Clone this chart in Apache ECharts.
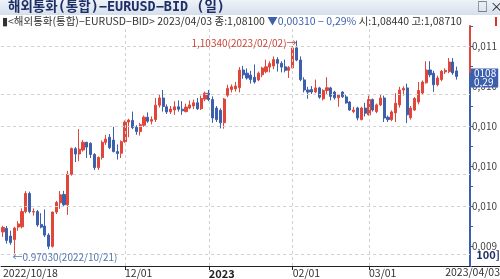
<!DOCTYPE html>
<html><head><meta charset="utf-8">
<script src="https://cdn.jsdelivr.net/npm/echarts@6/dist/echarts.min.js"></script>
<style>html,body{margin:0;padding:0;background:#fff}#c{width:500px;height:279px}</style>
</head><body><div id="c"></div>
<script>
const dates = ['2022/10/18','2022/10/19','2022/10/20','2022/10/21','2022/10/24','2022/10/25','2022/10/26','2022/10/27','2022/10/28','2022/10/31',
'2022/11/01','2022/11/02','2022/11/03','2022/11/04','2022/11/07','2022/11/08','2022/11/09','2022/11/10','2022/11/11','2022/11/14','2022/11/15','2022/11/16','2022/11/17','2022/11/18','2022/11/21','2022/11/22','2022/11/23','2022/11/24','2022/11/25','2022/11/28','2022/11/29','2022/11/30',
'2022/12/01','2022/12/02','2022/12/05','2022/12/06','2022/12/07','2022/12/08','2022/12/09','2022/12/12','2022/12/13','2022/12/14','2022/12/15','2022/12/16','2022/12/19','2022/12/20','2022/12/21','2022/12/22','2022/12/23','2022/12/26','2022/12/27','2022/12/28','2022/12/29','2022/12/30',
'2023/01/02','2023/01/03','2023/01/04','2023/01/05','2023/01/06','2023/01/09','2023/01/10','2023/01/11','2023/01/12','2023/01/13','2023/01/16','2023/01/17','2023/01/18','2023/01/19','2023/01/20','2023/01/23','2023/01/24','2023/01/25','2023/01/26','2023/01/27','2023/01/30','2023/01/31',
'2023/02/01','2023/02/02','2023/02/03','2023/02/06','2023/02/07','2023/02/08','2023/02/09','2023/02/10','2023/02/13','2023/02/14','2023/02/15','2023/02/16','2023/02/17','2023/02/20','2023/02/21','2023/02/22','2023/02/23','2023/02/24','2023/02/27','2023/02/28',
'2023/03/01','2023/03/02','2023/03/03','2023/03/06','2023/03/07','2023/03/08','2023/03/09','2023/03/10','2023/03/13','2023/03/14','2023/03/15','2023/03/16','2023/03/17','2023/03/20','2023/03/21','2023/03/22','2023/03/23','2023/03/24','2023/03/27','2023/03/28','2023/03/29','2023/03/30','2023/03/31',
'2023/04/03'];

const openV = [0.9838,0.9860,0.9812,0.9790,0.9868,0.9870,0.9965,1.0078,0.9962,0.9965,
0.9885,0.9875,0.9818,0.9748,0.9962,1.0020,1.0072,1.0008,1.0198,1.0358,1.0325,1.0350,1.0398,1.0392,1.0322,1.0240,1.0303,1.0398,1.0430,1.0412,1.0340,1.0330,
1.0402,1.0525,1.0535,1.0492,1.0465,1.0505,1.0555,1.0530,1.0540,1.0630,1.0675,1.0620,1.0588,1.0600,1.0620,1.0605,1.0590,1.0612,1.0625,1.0645,1.0608,1.0668,
1.0705,1.0665,1.0612,1.0598,1.0520,1.0692,1.0728,1.0732,1.0740,1.0850,1.0830,1.0818,1.0805,1.0788,1.0820,1.0840,1.0868,1.0875,1.0915,1.0892,1.0870,1.0848,
1.0863,1.0988,1.0912,1.0788,1.0725,1.0728,1.0713,1.0738,1.0670,1.0722,1.0738,1.0712,1.0676,1.0712,1.0682,1.0650,1.0590,1.0613,1.0540,1.0612,
1.0570,1.0665,1.0590,1.0632,1.0675,1.0555,1.0540,1.0582,1.0632,1.0725,1.0738,1.0552,1.0600,1.0650,1.0706,1.0770,1.0850,1.0830,1.0758,1.0790,1.0838,1.0840,1.0900,
1.0844];
const closeV = [0.9866,0.9785,0.9772,0.9862,0.9888,0.9965,1.0078,0.9965,0.9966,0.9882,
0.9868,0.9818,0.9748,0.9962,1.0022,1.0070,1.0008,1.0198,1.0360,1.0325,1.0355,1.0398,1.0368,1.0322,1.0240,1.0303,1.0398,1.0418,1.0365,1.0340,1.0328,1.0402,
1.0525,1.0537,1.0490,1.0465,1.0508,1.0555,1.0530,1.0540,1.0630,1.0675,1.0622,1.0588,1.0606,1.0620,1.0605,1.0595,1.0618,1.0632,1.0645,1.0608,1.0672,1.0705,
1.0665,1.0550,1.0540,1.0520,1.0668,1.0735,1.0745,1.0750,1.0850,1.0820,1.0800,1.0790,1.0775,1.0830,1.0862,1.0870,1.0890,1.0915,1.0892,1.0868,1.0848,1.0865,
1.0988,1.0912,1.0790,1.0725,1.0712,1.0713,1.0738,1.0680,1.0722,1.0739,1.0685,1.0676,1.0694,1.0683,1.0644,1.0600,1.0600,1.0550,1.0612,1.0580,
1.0665,1.0600,1.0632,1.0675,1.0550,1.0540,1.0588,1.0642,1.0725,1.0735,1.0570,1.0612,1.0672,1.0722,1.0775,1.0850,1.0820,1.0758,1.0800,1.0842,1.0848,1.0900,1.0832,
1.0810];
const lowV = [0.9806,0.9765,0.9758,0.9703,0.9845,0.9860,0.9955,0.9955,0.9940,0.9870,
0.9860,0.9806,0.9730,0.9740,0.9950,0.9982,0.9995,0.9944,1.0190,1.0275,1.0280,1.0340,1.0300,1.0300,1.0225,1.0225,1.0290,1.0382,1.0355,1.0335,1.0290,1.0300,
1.0395,1.0430,1.0480,1.0445,1.0440,1.0495,1.0520,1.0510,1.0525,1.0615,1.0590,1.0575,1.0575,1.0570,1.0590,1.0570,1.0585,1.0605,1.0605,1.0600,1.0600,1.0655,
1.0655,1.0520,1.0525,1.0485,1.0483,1.0680,1.0710,1.0715,1.0710,1.0795,1.0790,1.0765,1.0765,1.0780,1.0805,1.0830,1.0835,1.0855,1.0840,1.0835,1.0835,1.0800,
1.0860,1.0905,1.0780,1.0710,1.0670,1.0700,1.0705,1.0670,1.0660,1.0700,1.0660,1.0665,1.0620,1.0675,1.0640,1.0595,1.0580,1.0535,1.0535,1.0560,
1.0565,1.0590,1.0580,1.0625,1.0525,1.0525,1.0530,1.0525,1.0615,1.0690,1.0518,1.0540,1.0595,1.0635,1.0700,1.0765,1.0805,1.0713,1.0748,1.0780,1.0825,1.0830,1.0820,
1.0790];
const highV = [0.9876,0.9875,0.9846,0.9870,0.9905,0.9985,1.0093,1.0090,0.9985,0.9975,
0.9955,0.9978,0.9830,0.9965,1.0032,1.0094,1.0095,1.0220,1.0365,1.0368,1.0481,1.0412,1.0402,1.0398,1.0330,1.0310,1.0410,1.0445,1.0450,1.0495,1.0385,1.0410,
1.0535,1.0545,1.0590,1.0505,1.0520,1.0565,1.0585,1.0560,1.0675,1.0695,1.0725,1.0635,1.0625,1.0655,1.0660,1.0655,1.0640,1.0660,1.0665,1.0675,1.0690,1.0715,
1.0725,1.0685,1.0625,1.0610,1.0675,1.0758,1.0760,1.0775,1.0868,1.0875,1.0860,1.0845,1.0885,1.0840,1.0870,1.0915,1.0905,1.0935,1.0930,1.0905,1.0915,1.0875,
1.1000,1.1034,1.0935,1.0805,1.0745,1.0750,1.0790,1.0745,1.0730,1.0805,1.0745,1.0720,1.0700,1.0718,1.0695,1.0655,1.0620,1.0620,1.0620,1.0645,
1.0690,1.0672,1.0640,1.0695,1.0690,1.0565,1.0598,1.0705,1.0745,1.0748,1.0765,1.0625,1.0680,1.0775,1.0785,1.0905,1.0905,1.0845,1.0815,1.0850,1.0860,1.0925,1.0925,
1.0871];

const yTickValues = [1.100, 1.075, 1.050, 1.025, 1.000, 0.975];
const yTickLabels = ['0,011', '0,010', '0,010', '0,010', '0,010', '0,009'];
const xTickLabels = {'2022/10/18':'2022/10/18','2022/12/01':'12/01','2023/01/02':'{b|2023}','2023/02/01':'02/01','2023/03/01':'03/01'};
const xGridDates = ['2022/12/01','2023/01/02','2023/02/01','2023/03/01'];
const padCats = [' ', '  ', '   '];

const RED = '#e0463a', BLUE = '#3c5fae';
const chart = echarts.init(document.getElementById('c'), null, {renderer:'canvas'});
const candles = dates.map((d, i) => [openV[i], closeV[i], lowV[i], highV[i]]);
const last = dates.length - 1;
const axisTop = 26, axisBottom = 266;
const redFrac = (73 - axisTop) / (axisBottom - axisTop);
const KR = '"Noto Sans CJK KR", "Noto Sans", sans-serif';
const MONO = '"DejaVu Sans Mono", "Noto Sans CJK KR", monospace';

const gridLines = yTickValues.map(v => ({yAxis: v}))
  .concat(xGridDates.map(d => ({xAxis: d})));

chart.setOption({
  animation: false,
  grid: {left: -3.1, right: 28.1, top: axisTop, bottom: 279 - axisBottom, containLabel: false},
  xAxis: {
    type: 'category', data: dates.concat(padCats), boundaryGap: true,
    axisLine: {lineStyle: {color: '#222', width: 1}},
    axisTick: {show: true, alignWithLabel: true, length: 4, lineStyle: {color: '#222'},
      interval: (i, v) => v in xTickLabels && i > 0},
    axisLabel: {interval: (i, v) => v in xTickLabels, formatter: v => xTickLabels[v] || '',
      align: 'left', margin: 2, fontSize: 10.5, color: '#333', fontFamily: KR,
      rich: {b: {fontWeight: 'bold', fontSize: 11, color: '#222', fontFamily: KR}}},
    splitLine: {show: false}
  },
  yAxis: {
    type: 'value', position: 'right', min: 0.9625, max: 1.1125, interval: 0.0125, scale: true,
    axisLine: {show: true, lineStyle: {width: 2, color: {type: 'linear', x: 0, y: axisTop, x2: 0, y2: axisBottom, global: true,
      colorStops: [{offset: 0, color: RED}, {offset: redFrac, color: RED}, {offset: redFrac, color: BLUE}, {offset: 1, color: BLUE}]}}},
    axisTick: {show: true, length: 3, lineStyle: {color: BLUE}},
    axisLabel: {margin: 2, fontSize: 10, color: '#444', fontFamily: KR,
      formatter: v => { const k = yTickValues.findIndex(t => Math.abs(t - v) < 1e-6); return k >= 0 ? yTickLabels[k] : ''; }},
    splitLine: {show: false}
  },
  series: [{
    type: 'candlestick', data: candles, barWidth: 2.6,
    itemStyle: {color: RED, color0: BLUE, borderColor: RED, borderColor0: BLUE, borderWidth: 1},
    markLine: {
      silent: true, symbol: ['none', 'none'], animation: false,
      lineStyle: {type: [3, 3], color: '#d0d0d0', width: 1},
      label: {show: false},
      data: gridLines.concat([{
        yAxis: closeV[last], lineStyle: {color: 'rgba(0,0,0,0)', width: 0},
        label: {show: true, position: 'end', distance: 1, formatter: '0108\n0,29',
          backgroundColor: BLUE, color: '#fff', fontSize: 10, lineHeight: 9, padding: [1, 2, 0, 3], fontFamily: KR}
      }])
    },
    markPoint: {
      symbol: 'circle', symbolSize: 0, animation: false,
      data: [
        {coord: ['2023/02/02', 1.1034], label: {show: true, position: 'left', distance: 0, offset: [0, 2.5],
          formatter: '1,10340(2023/02/02)→', color: '#c8483a', fontSize: 10, fontFamily: KR}},
        {coord: ['2022/10/21', 0.9703], label: {show: true, position: 'right', distance: 0, offset: [-2, 4],
          formatter: '←0.97030(2022/10/21)', color: '#5577b0', fontSize: 10, fontFamily: KR}}
      ]
    }
  }],
  graphic: [
    {type: 'rect', shape: {x: 0, y: 0, width: 500, height: 15}, z: 100,
      style: {fill: {type: 'linear', x: 0, y: 0, x2: 0, y2: 1, colorStops: [{offset: 0, color: '#eef3f9'}, {offset: 1, color: '#d5dfeb'}]}}},
    {type: 'text', x: 8, y: 1, z: 101, style: {text: '해외통화(통합)−EURUSD−BID (일)', font: 'bold 13.5px ' + MONO, fill: '#1d2f66'}},
    {type: 'text', x: 477, y: 1, z: 101, style: {text: '□', font: '11px ' + KR, fill: '#222'}},
    {type: 'text', x: 490, y: 0, z: 101, style: {text: '×', font: '13px ' + KR, fill: '#222'}},
    {type: 'text', x: 2, y: 16, z: 101, style: {
      text: '{k|▮<해외통화(통합)−EURUSD−BID> 2023/04/03 종:1,08100 }{b|▼0,00310 − 0,29%}{k| 시:1,08440 고:1,08710}',
      rich: {k: {fontSize: 10.5, fill: '#333', fontFamily: KR}, b: {fontSize: 10.5, fill: '#3c5fae', fontFamily: KR}}}},
    {type: 'rect', shape: {x: 495, y: 17, width: 2, height: 9}, z: 101, style: {fill: '#d8342a'}},
    {type: 'text', right: 0, y: 249, z: 101, style: {text: '100]', font: 'bold 11px ' + KR, fill: '#1d2f66'}},
    {type: 'text', right: 0, y: 267, z: 101, style: {text: '2023/04/03', font: '10.5px ' + KR, fill: '#333'}},
    {type: 'line', shape: {x1: 472, y1: axisBottom + 0.5, x2: 500, y2: axisBottom + 0.5}, z: 101, style: {stroke: '#222', lineWidth: 1}}
  ]
});
</script></body></html>
